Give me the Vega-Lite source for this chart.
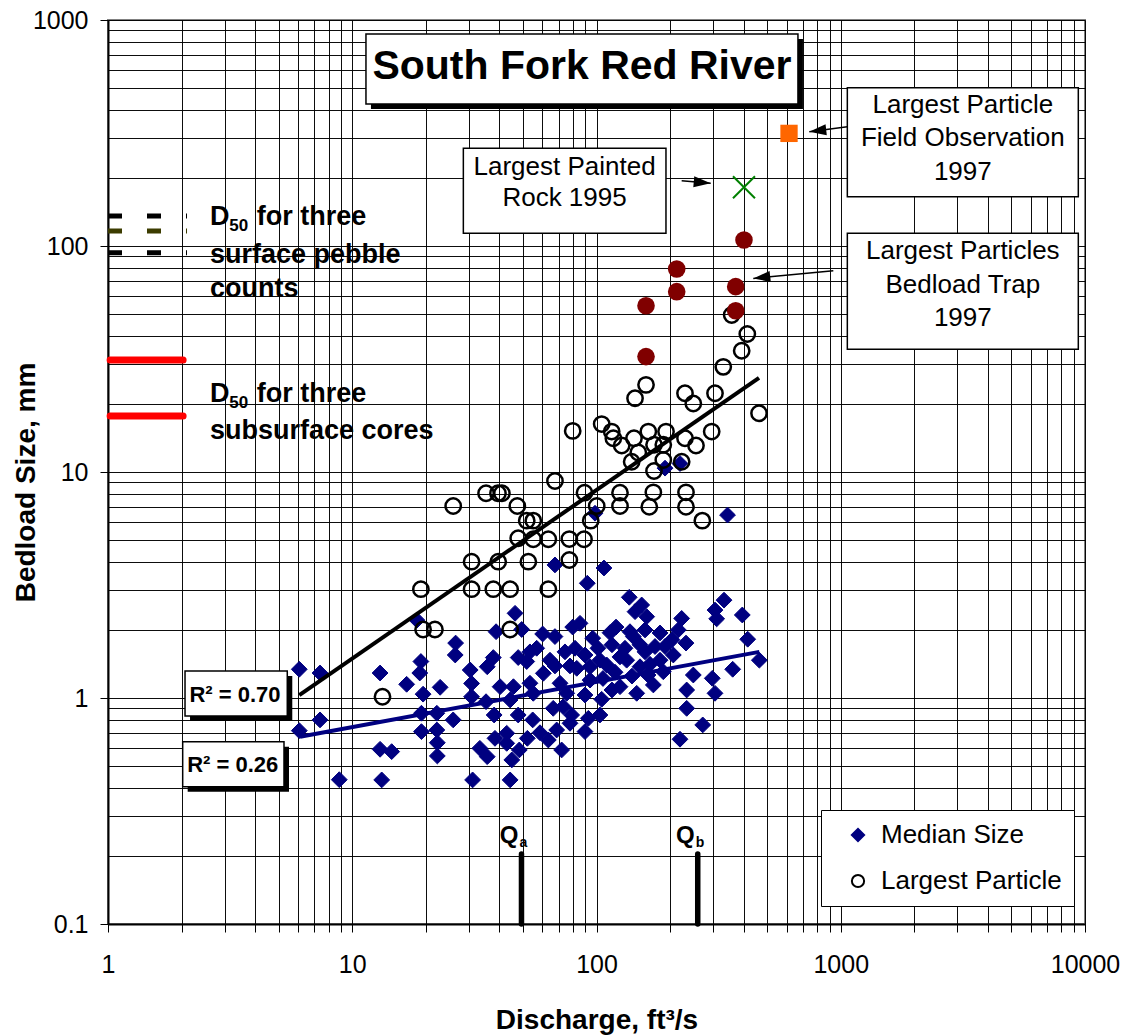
{
  "$schema": "https://vega.github.io/schema/vega-lite/v6.json",
  "width": 977,
  "height": 904,
  "autosize": {"type": "none"},
  "padding": {"left": 108, "top": 20, "right": 45, "bottom": 111},
  "background": "#ffffff",
  "config": {
    "font": "Liberation Sans",
    "view": {"stroke": "#808080", "strokeWidth": 2},
    "axis": {
      "grid": true, "gridColor": "#000000", "gridWidth": 1, "gridOpacity": 0.95,
      "domainColor": "#000000", "domainWidth": 2,
      "tickColor": "#000000", "tickWidth": 1, "tickSize": 8,
      "labelColor": "#000000", "labelFont": "Liberation Sans", "labelFontSize": 25,
      "labelOverlap": false, "labelFlush": false, "labelBound": false,
      "titleColor": "#000000", "titleFont": "Liberation Sans", "titleFontSize": 28, "titleFontWeight": "bold"
    }
  },
  "datasets": {
    "points": [
      {"x":6.07,"y":1.34,"series":"Median Size"},{"x":7.38,"y":1.29,"series":"Median Size"},{"x":6.07,"y":0.717,"series":"Median Size"},{"x":7.38,"y":0.80,"series":"Median Size"},{"x":8.85,"y":0.435,"series":"Median Size"},
      {"x":13.0,"y":1.29,"series":"Median Size"},{"x":13.0,"y":0.593,"series":"Median Size"},{"x":14.5,"y":0.579,"series":"Median Size"},{"x":13.2,"y":0.434,"series":"Median Size"},{"x":16.7,"y":1.15,"series":"Median Size"},
      {"x":18.4,"y":2.21,"series":"Median Size"},{"x":19.1,"y":1.45,"series":"Median Size"},{"x":18.9,"y":1.29,"series":"Median Size"},{"x":19.5,"y":1.04,"series":"Median Size"},{"x":22.9,"y":1.115,"series":"Median Size"},
      {"x":26.5,"y":1.75,"series":"Median Size"},{"x":26.4,"y":1.55,"series":"Median Size"},{"x":19.2,"y":0.856,"series":"Median Size"},{"x":22.2,"y":0.856,"series":"Median Size"},{"x":25.9,"y":0.80,"series":"Median Size"},
      {"x":19.2,"y":0.71,"series":"Median Size"},{"x":22.2,"y":0.722,"series":"Median Size"},{"x":22.3,"y":0.634,"series":"Median Size"},{"x":22.3,"y":0.554,"series":"Median Size"},{"x":30.4,"y":1.33,"series":"Median Size"},
      {"x":30.8,"y":1.16,"series":"Median Size"},{"x":30.8,"y":1.013,"series":"Median Size"},{"x":31.1,"y":0.434,"series":"Median Size"},{"x":67.6,"y":3.88,"series":"Median Size"},{"x":107.3,"y":3.76,"series":"Median Size"},
      {"x":91.7,"y":3.22,"series":"Median Size"},{"x":46.4,"y":2.37,"series":"Median Size"},{"x":79.9,"y":2.06,"series":"Median Size"},{"x":85.6,"y":2.14,"series":"Median Size"},{"x":38.8,"y":1.965,"series":"Median Size"},
      {"x":49.4,"y":2.01,"series":"Median Size"},{"x":60.2,"y":1.92,"series":"Median Size"},{"x":67.6,"y":1.87,"series":"Median Size"},{"x":96.5,"y":1.84,"series":"Median Size"},{"x":113.6,"y":1.945,"series":"Median Size"},
      {"x":120.2,"y":2.06,"series":"Median Size"},{"x":35.7,"y":1.375,"series":"Median Size"},{"x":37.8,"y":1.51,"series":"Median Size"},{"x":47.8,"y":1.51,"series":"Median Size"},{"x":51.8,"y":1.45,"series":"Median Size"},
      {"x":56.9,"y":1.66,"series":"Median Size"},{"x":53.4,"y":1.60,"series":"Median Size"},{"x":64.5,"y":1.47,"series":"Median Size"},{"x":67.6,"y":1.386,"series":"Median Size"},{"x":60.6,"y":1.286,"series":"Median Size"},
      {"x":77.9,"y":1.386,"series":"Median Size"},{"x":83.0,"y":1.353,"series":"Median Size"},{"x":94.1,"y":1.375,"series":"Median Size"},{"x":103.3,"y":1.47,"series":"Median Size"},{"x":110.1,"y":1.40,"series":"Median Size"},
      {"x":124.8,"y":1.52,"series":"Median Size"},{"x":132.9,"y":1.47,"series":"Median Size"},{"x":150.7,"y":1.375,"series":"Median Size"},{"x":173.6,"y":1.69,"series":"Median Size"},{"x":190.8,"y":1.69,"series":"Median Size"},
      {"x":206.3,"y":1.55,"series":"Median Size"},{"x":187.7,"y":1.307,"series":"Median Size"},{"x":249.1,"y":1.264,"series":"Median Size"},{"x":297.9,"y":1.222,"series":"Median Size"},{"x":361.1,"y":1.34,"series":"Median Size"},
      {"x":464.2,"y":1.47,"series":"Median Size"},{"x":234.0,"y":1.085,"series":"Median Size"},{"x":305.6,"y":1.049,"series":"Median Size"},{"x":234.0,"y":0.90,"series":"Median Size"},{"x":272.2,"y":0.76,"series":"Median Size"},
      {"x":219.7,"y":0.657,"series":"Median Size"},{"x":35.3,"y":0.963,"series":"Median Size"},{"x":40.3,"y":1.122,"series":"Median Size"},{"x":45.7,"y":1.122,"series":"Median Size"},{"x":44.3,"y":0.98,"series":"Median Size"},
      {"x":53.4,"y":1.162,"series":"Median Size"},{"x":55.1,"y":1.049,"series":"Median Size"},{"x":70.9,"y":1.162,"series":"Median Size"},{"x":75.5,"y":1.049,"series":"Median Size"},{"x":89.7,"y":1.031,"series":"Median Size"},
      {"x":105.0,"y":0.987,"series":"Median Size"},{"x":124.8,"y":1.122,"series":"Median Size"},{"x":146.1,"y":1.049,"series":"Median Size"},{"x":170.9,"y":1.142,"series":"Median Size"},{"x":38.1,"y":0.841,"series":"Median Size"},
      {"x":47.8,"y":0.841,"series":"Median Size"},{"x":54.8,"y":0.80,"series":"Median Size"},{"x":66.5,"y":0.90,"series":"Median Size"},{"x":73.1,"y":0.915,"series":"Median Size"},{"x":79.1,"y":0.841,"series":"Median Size"},
      {"x":92.6,"y":0.813,"series":"Median Size"},{"x":103.3,"y":0.841,"series":"Median Size"},{"x":33.3,"y":0.599,"series":"Median Size"},{"x":35.7,"y":0.55,"series":"Median Size"},{"x":38.4,"y":0.663,"series":"Median Size"},
      {"x":42.9,"y":0.698,"series":"Median Size"},{"x":42.9,"y":0.63,"series":"Median Size"},{"x":45.0,"y":0.532,"series":"Median Size"},{"x":48.3,"y":0.589,"series":"Median Size"},{"x":52.1,"y":0.663,"series":"Median Size"},
      {"x":58.7,"y":0.702,"series":"Median Size"},{"x":63.5,"y":0.652,"series":"Median Size"},{"x":68.7,"y":0.722,"series":"Median Size"},{"x":72.0,"y":0.589,"series":"Median Size"},{"x":77.9,"y":0.773,"series":"Median Size"},
      {"x":89.7,"y":0.71,"series":"Median Size"},{"x":44.3,"y":0.434,"series":"Median Size"},{"x":136.2,"y":2.79,"series":"Median Size"},{"x":332.7,"y":2.71,"series":"Median Size"},{"x":305.6,"y":2.45,"series":"Median Size"},
      {"x":395.3,"y":2.33,"series":"Median Size"},{"x":153.1,"y":2.58,"series":"Median Size"},{"x":143.8,"y":2.41,"series":"Median Size"},{"x":160.5,"y":2.29,"series":"Median Size"},{"x":223.2,"y":2.25,"series":"Median Size"},
      {"x":310.5,"y":2.24,"series":"Median Size"},{"x":137.1,"y":1.965,"series":"Median Size"},{"x":141.5,"y":1.87,"series":"Median Size"},{"x":216.2,"y":2.0,"series":"Median Size"},{"x":232.5,"y":1.75,"series":"Median Size"},
      {"x":416,"y":1.82,"series":"Median Size"},{"x":190.8,"y":10.4,"series":"Median Size"},{"x":219.7,"y":10.9,"series":"Median Size"},{"x":343.9,"y":6.45,"series":"Median Size"},{"x":98.6,"y":6.57,"series":"Median Size"},
      {"x":101.4,"y":1.66,"series":"Median Size"},{"x":115.7,"y":1.72,"series":"Median Size"},{"x":130.8,"y":1.66,"series":"Median Size"},{"x":158.0,"y":1.60,"series":"Median Size"},{"x":162.5,"y":1.264,"series":"Median Size"},
      {"x":182.0,"y":1.47,"series":"Median Size"},{"x":106.3,"y":1.22,"series":"Median Size"},{"x":119.1,"y":1.30,"series":"Median Size"},{"x":139.7,"y":1.25,"series":"Median Size"},{"x":150.7,"y":1.72,"series":"Median Size"},
      {"x":89.7,"y":1.55,"series":"Median Size"},{"x":81.7,"y":1.66,"series":"Median Size"},{"x":74.3,"y":1.60,"series":"Median Size"},{"x":94.1,"y":1.20,"series":"Median Size"},{"x":158.0,"y":2.0,"series":"Median Size"},
      {"x":182.0,"y":1.94,"series":"Median Size"},{"x":203.8,"y":1.81,"series":"Median Size"},{"x":165.6,"y":1.41,"series":"Median Size"},{"x":115.7,"y":1.085,"series":"Median Size"},
      {"x":13.3,"y":1.013,"series":"Largest Particle"},{"x":19.5,"y":2.01,"series":"Largest Particle"},{"x":21.8,"y":2.01,"series":"Largest Particle"},{"x":79.9,"y":15.2,"series":"Largest Particle"},{"x":105.0,"y":16.3,"series":"Largest Particle"},
      {"x":115.4,"y":15.1,"series":"Largest Particle"},{"x":117.2,"y":14.1,"series":"Largest Particle"},{"x":67.6,"y":9.12,"series":"Largest Particle"},{"x":35.3,"y":8.05,"series":"Largest Particle"},{"x":39.5,"y":8.05,"series":"Largest Particle"},
      {"x":41.0,"y":8.05,"series":"Largest Particle"},{"x":25.9,"y":7.07,"series":"Largest Particle"},{"x":47.4,"y":7.07,"series":"Largest Particle"},{"x":89.3,"y":8.1,"series":"Largest Particle"},{"x":100.2,"y":7.07,"series":"Largest Particle"},
      {"x":124.8,"y":8.1,"series":"Largest Particle"},{"x":124.8,"y":7.07,"series":"Largest Particle"},{"x":51.8,"y":6.09,"series":"Largest Particle"},{"x":55.1,"y":6.09,"series":"Largest Particle"},{"x":94.7,"y":6.09,"series":"Largest Particle"},
      {"x":47.8,"y":5.09,"series":"Largest Particle"},{"x":55.1,"y":5.04,"series":"Largest Particle"},{"x":63.5,"y":5.04,"series":"Largest Particle"},{"x":77.4,"y":5.05,"series":"Largest Particle"},{"x":88.9,"y":5.04,"series":"Largest Particle"},
      {"x":30.8,"y":4.01,"series":"Largest Particle"},{"x":39.6,"y":4.01,"series":"Largest Particle"},{"x":52.6,"y":4.01,"series":"Largest Particle"},{"x":77.4,"y":4.08,"series":"Largest Particle"},{"x":19.1,"y":3.03,"series":"Largest Particle"},
      {"x":30.8,"y":3.03,"series":"Largest Particle"},{"x":37.8,"y":3.03,"series":"Largest Particle"},{"x":44.3,"y":3.03,"series":"Largest Particle"},{"x":63.5,"y":3.03,"series":"Largest Particle"},{"x":44.3,"y":2.01,"series":"Largest Particle"},
      {"x":357.7,"y":49.5,"series":"Largest Particle"},{"x":414.4,"y":40.8,"series":"Largest Particle"},{"x":393.0,"y":34.4,"series":"Largest Particle"},{"x":330.4,"y":29.2,"series":"Largest Particle"},{"x":159.5,"y":24.3,"series":"Largest Particle"},
      {"x":143.8,"y":21.2,"series":"Largest Particle"},{"x":230.3,"y":22.3,"series":"Largest Particle"},{"x":249.1,"y":20.1,"series":"Largest Particle"},{"x":305.6,"y":22.3,"series":"Largest Particle"},{"x":462.8,"y":18.2,"series":"Largest Particle"},
      {"x":126.8,"y":13.1,"series":"Largest Particle"},{"x":142.4,"y":14.1,"series":"Largest Particle"},{"x":163,"y":15.1,"series":"Largest Particle"},{"x":192.6,"y":15.1,"series":"Largest Particle"},{"x":172.0,"y":13.2,"series":"Largest Particle"},
      {"x":187.7,"y":13.2,"series":"Largest Particle"},{"x":230.3,"y":14.1,"series":"Largest Particle"},{"x":255.5,"y":13.1,"series":"Largest Particle"},{"x":296.2,"y":15.1,"series":"Largest Particle"},{"x":148.3,"y":12.2,"series":"Largest Particle"},
      {"x":139.3,"y":11.1,"series":"Largest Particle"},{"x":172.0,"y":10.1,"series":"Largest Particle"},{"x":187.7,"y":11.3,"series":"Largest Particle"},{"x":223.2,"y":11.1,"series":"Largest Particle"},{"x":170.9,"y":8.13,"series":"Largest Particle"},
      {"x":164.5,"y":7.02,"series":"Largest Particle"},{"x":232.5,"y":8.13,"series":"Largest Particle"},{"x":232.5,"y":7.02,"series":"Largest Particle"},{"x":271.2,"y":6.09,"series":"Largest Particle"}
    ],
    "trap": [{"x":159.5,"y":54.4},{"x":159.5,"y":32.4},{"x":213,"y":79.1},{"x":213,"y":62.8},{"x":371.5,"y":66.1},{"x":371.5,"y":51.7},{"x":401.6,"y":106.3}],
    "painted": [{"x":401.6,"y":181.8}],
    "fieldobs": [{"x":614,"y":315}],
    "fits": [{"series":"Median Size","x":6.11,"y":0.674,"x2":464.2,"y2":1.60},{"series":"Largest Particle","x":6.07,"y":1.03,"x2":462.8,"y2":26.1}],
    "cores": [{"x":1.02,"x2":2.03,"y":31.3},{"x":1.02,"x2":2.03,"y":17.7}],
    "pebble": [{"x":1,"x2":2.106,"y":135.8,"count":"A"},{"x":1,"x2":2.106,"y":116.5,"count":"B"},{"x":1,"x2":2.106,"y":93.4,"count":"C"}],
    "qbars": [{"x":49.3,"y":0.1,"y2":0.204},{"x":259.7,"y":0.1,"y2":0.204}],
    "qlabels": [{"x":49.3,"y":0.2276,"text":"Q"},{"x":259.7,"y":0.2276,"text":"Q"}],
    "qsubs": [{"x":49.3,"y":0.2198,"text":"a"},{"x":259.7,"y":0.2198,"text":"b"}],
    "arrows": [{"x":1064,"y":337.2,"x2":743.3,"y2":320.5},{"x":932.2,"y":77.8,"x2":438.5,"y2":71.9},{"x":223.2,"y":194.5,"x2":293.5,"y2":189.4}],
    "tipsLeft": [{"x":743.3,"y":320.5},{"x":438.5,"y":71.9}],
    "tipsRight": [{"x":293.5,"y":189.4}],
    "boxes": [
      {"x":11.38,"x2":668,"y":867,"y2":425},
      {"x":2.067,"x2":5.42,"y":1.317,"y2":0.832},
      {"x":2.022,"x2":5.255,"y":0.641,"y2":0.405},
      {"x":28.5,"x2":192.5,"y":270.6,"y2":113.8},
      {"x":1064,"x2":9389,"y":501.6,"y2":165.2},
      {"x":1064,"x2":9389,"y":113.8,"y2":34.9}
    ],
    "shadows": [
      {"x":11.38,"x2":668,"y":867,"y2":425},
      {"x":2.067,"x2":5.42,"y":1.317,"y2":0.832},
      {"x":2.022,"x2":5.255,"y":0.641,"y2":0.405}
    ],
    "titleText": [{"x":87.2,"y":618,"text":"South Fork Red River"}],
    "boxText": [
      {"x":74,"y":224.3,"text":"Largest Painted"},{"x":74,"y":162.6,"text":"Rock 1995"},
      {"x":3160,"y":421.9,"text":"Largest Particle"},{"x":3160,"y":299.9,"text":"Field Observation"},{"x":3160,"y":212.1,"text":"1997"},
      {"x":3160,"y":95.5,"text":"Largest Particles"},{"x":3160,"y":67.5,"text":"Bedload Trap"},{"x":3160,"y":47.9,"text":"1997"}
    ],
    "r2Text": [{"x":3.311,"y":1.033,"text":"R² = 0.70"},{"x":3.24,"y":0.505,"text":"R² = 0.26"}],
    "d50Text": [
      {"x":2.616,"y":123.9,"text":"D"},{"x":4.063,"y":123.9,"text":"for three"},{"x":2.616,"y":83.8,"text":"surface pebble"},{"x":2.616,"y":59.3,"text":"counts"},
      {"x":2.616,"y":20.47,"text":"D"},{"x":4.063,"y":20.47,"text":"for three"},{"x":2.616,"y":13.95,"text":"subsurface cores"}
    ],
    "d50Sub": [{"x":3.138,"y":116.9,"text":"50"},{"x":3.138,"y":19.13,"text":"50"}]
  },
  "encoding": {
    "x": {
      "field": "x", "type": "quantitative",
      "scale": {"type": "log", "domain": [1, 10000], "nice": false},
      "axis": {
        "title": "Discharge, ft³/s",
        "values": [1,2,3,4,5,6,7,8,9,10,20,30,40,50,60,70,80,90,100,200,300,400,500,600,700,800,900,1000,2000,3000,4000,5000,6000,7000,8000,9000,10000],
        "labelExpr": "indexof([1,10,100,1000,10000], datum.value) >= 0 ? format(datum.value, 'd') : ''",
        "tickSize": 8, "labelPadding": 20,
        "titleY": 96, "titleBaseline": "middle"
      }
    },
    "y": {
      "field": "y", "type": "quantitative",
      "scale": {"type": "log", "domain": [0.1, 1000], "nice": false},
      "axis": {
        "title": "Bedload Size, mm",
        "values": [0.1,0.2,0.3,0.4,0.5,0.6,0.7,0.8,0.9,1,2,3,4,5,6,7,8,9,10,20,30,40,50,60,70,80,90,100,200,300,400,500,600,700,800,900,1000],
        "labelExpr": "indexof([0.1,1,10,100,1000], datum.value) >= 0 ? format(datum.value, '~g') : ''",
        "tickSize": 8, "labelPadding": 12,
        "tickOpacity": {"condition": {"test": "indexof([0.1,1,10,100,1000], datum.value) >= 0", "value": 1}, "value": 0},
        "titleX": -82, "titleY": 462, "titleBaseline": "middle", "titleAngle": 270
      }
    }
  },
  "layer": [
    {"data": {"name": "cores"}, "mark": {"type": "rule", "color": "#ff0000", "strokeWidth": 7, "strokeCap": "round"}, "encoding": {"x2": {"field": "x2"}}},
    {"data": {"name": "pebble"}, "mark": {"type": "rule", "strokeWidth": 5, "strokeDash": [14, 25]}, "encoding": {"x2": {"field": "x2"}, "color": {"field": "count", "type": "nominal", "scale": {"domain": ["A","B","C"], "range": ["#000000","#3c3c00","#000000"]}, "legend": null}}},
    {
      "data": {"name": "points"},
      "transform": [{"filter": "datum.series === 'Median Size'"}],
      "mark": {"type": "point", "size": 250, "strokeWidth": 1, "opacity": 1},
      "encoding": {
        "shape": {"field": "series", "type": "nominal", "scale": {"domain": ["Median Size","Largest Particle"], "range": ["diamond","circle"]},
          "legend": {"title": null, "orient": "none", "legendX": 713, "legendY": 790, "padding": 12, "strokeColor": "#000000", "fillColor": "#ffffff", "labelFontSize": 26, "labelFont": "Liberation Sans", "labelColor": "#000000", "labelLimit": 400, "symbolSize": 150, "symbolStrokeWidth": 2, "rowPadding": 20, "symbolOffset": 12, "labelOffset": 10}},
        "fill": {"field": "series", "type": "nominal", "scale": {"domain": ["Median Size","Largest Particle"], "range": ["#000080","transparent"]},
          "legend": {"title": null, "orient": "none", "legendX": 713, "legendY": 790, "padding": 12, "strokeColor": "#000000", "fillColor": "#ffffff", "labelFontSize": 26, "labelFont": "Liberation Sans", "labelColor": "#000000", "labelLimit": 400, "symbolSize": 150, "symbolStrokeWidth": 2, "rowPadding": 20, "symbolOffset": 12, "labelOffset": 10}},
        "stroke": {"field": "series", "type": "nominal", "scale": {"domain": ["Median Size","Largest Particle"], "range": ["#000080","#000000"]},
          "legend": {"title": null, "orient": "none", "legendX": 713, "legendY": 790, "padding": 12, "strokeColor": "#000000", "fillColor": "#ffffff", "labelFontSize": 26, "labelFont": "Liberation Sans", "labelColor": "#000000", "labelLimit": 400, "symbolSize": 150, "symbolStrokeWidth": 2, "rowPadding": 20, "symbolOffset": 12, "labelOffset": 10}}
      }
    },
    {
      "data": {"name": "points"},
      "transform": [{"filter": "datum.series === 'Largest Particle'"}],
      "mark": {"type": "point", "size": 235, "strokeWidth": 2.5, "opacity": 1},
      "encoding": {
        "shape": {"field": "series", "type": "nominal", "scale": {"domain": ["Median Size","Largest Particle"], "range": ["diamond","circle"]}},
        "fill": {"field": "series", "type": "nominal", "scale": {"domain": ["Median Size","Largest Particle"], "range": ["#000080","transparent"]}},
        "stroke": {"field": "series", "type": "nominal", "scale": {"domain": ["Median Size","Largest Particle"], "range": ["#000080","#000000"]}}
      }
    },
    {"data": {"name": "fits"}, "transform": [{"filter": "datum.series === 'Median Size'"}], "mark": {"type": "rule", "color": "#000080", "strokeWidth": 4}, "encoding": {"x2": {"field": "x2"}, "y2": {"field": "y2"}}},
    {"data": {"name": "fits"}, "transform": [{"filter": "datum.series === 'Largest Particle'"}], "mark": {"type": "rule", "color": "#000000", "strokeWidth": 4}, "encoding": {"x2": {"field": "x2"}, "y2": {"field": "y2"}}},
    {"data": {"name": "trap"}, "mark": {"type": "point", "shape": "circle", "filled": true, "color": "#800000", "size": 310, "opacity": 1}, "encoding": {}},
    {"data": {"name": "painted"}, "mark": {"type": "point", "shape": "M-1,-1L1,1M-1,1L1,-1", "filled": false, "color": "#008000", "strokeWidth": 2, "size": 484, "opacity": 1}, "encoding": {}},
    {"data": {"name": "fieldobs"}, "mark": {"type": "point", "shape": "square", "filled": true, "color": "#ff6600", "size": 300, "opacity": 1}, "encoding": {}},
    {"data": {"name": "qbars"}, "mark": {"type": "rule", "color": "#000000", "strokeWidth": 5.5, "strokeCap": "round"}, "encoding": {"y2": {"field": "y2"}}},
    {"data": {"name": "qlabels"}, "mark": {"type": "text", "align": "right", "baseline": "alphabetic", "dx": -3, "fontSize": 24, "fontWeight": "bold", "color": "#000000"}, "encoding": {"text": {"field": "text"}}},
    {"data": {"name": "qsubs"}, "mark": {"type": "text", "align": "left", "baseline": "alphabetic", "dx": -2, "fontSize": 14, "fontWeight": "bold", "color": "#000000"}, "encoding": {"text": {"field": "text"}}},
    {"data": {"name": "arrows"}, "mark": {"type": "rule", "color": "#000000", "strokeWidth": 1.5}, "encoding": {"x2": {"field": "x2"}, "y2": {"field": "y2"}}},
    {"data": {"name": "tipsLeft"}, "mark": {"type": "point", "shape": "M0,0L2,-0.65L2,0.65Z", "filled": true, "color": "#000000", "size": 289, "angle": -6.5, "opacity": 1}, "encoding": {}},
    {"data": {"name": "tipsRight"}, "mark": {"type": "point", "shape": "M0,0L-2,-0.65L-2,0.65Z", "filled": true, "color": "#000000", "size": 289, "angle": 5, "opacity": 1}, "encoding": {}},
    {"data": {"name": "shadows"}, "mark": {"type": "rect", "color": "#000000", "xOffset": 5, "x2Offset": 5, "yOffset": 5, "y2Offset": 5}, "encoding": {"x2": {"field": "x2"}, "y2": {"field": "y2"}}},
    {"data": {"name": "boxes"}, "mark": {"type": "rect", "fill": "#ffffff", "stroke": "#000000", "strokeWidth": 1.5}, "encoding": {"x2": {"field": "x2"}, "y2": {"field": "y2"}}},
    {"data": {"name": "titleText"}, "mark": {"type": "text", "align": "center", "baseline": "middle", "fontSize": 41, "fontWeight": "bold", "color": "#000000"}, "encoding": {"text": {"field": "text"}}},
    {"data": {"name": "boxText"}, "mark": {"type": "text", "align": "center", "baseline": "middle", "fontSize": 26, "color": "#000000"}, "encoding": {"text": {"field": "text"}}},
    {"data": {"name": "r2Text"}, "mark": {"type": "text", "align": "center", "baseline": "middle", "fontSize": 22, "fontWeight": "bold", "color": "#000000"}, "encoding": {"text": {"field": "text"}}},
    {"data": {"name": "d50Text"}, "mark": {"type": "text", "align": "left", "baseline": "alphabetic", "fontSize": 27, "fontWeight": "bold", "color": "#000000"}, "encoding": {"text": {"field": "text"}}},
    {"data": {"name": "d50Sub"}, "mark": {"type": "text", "align": "left", "baseline": "alphabetic", "fontSize": 17, "fontWeight": "bold", "color": "#000000"}, "encoding": {"text": {"field": "text"}}}
  ]
}
